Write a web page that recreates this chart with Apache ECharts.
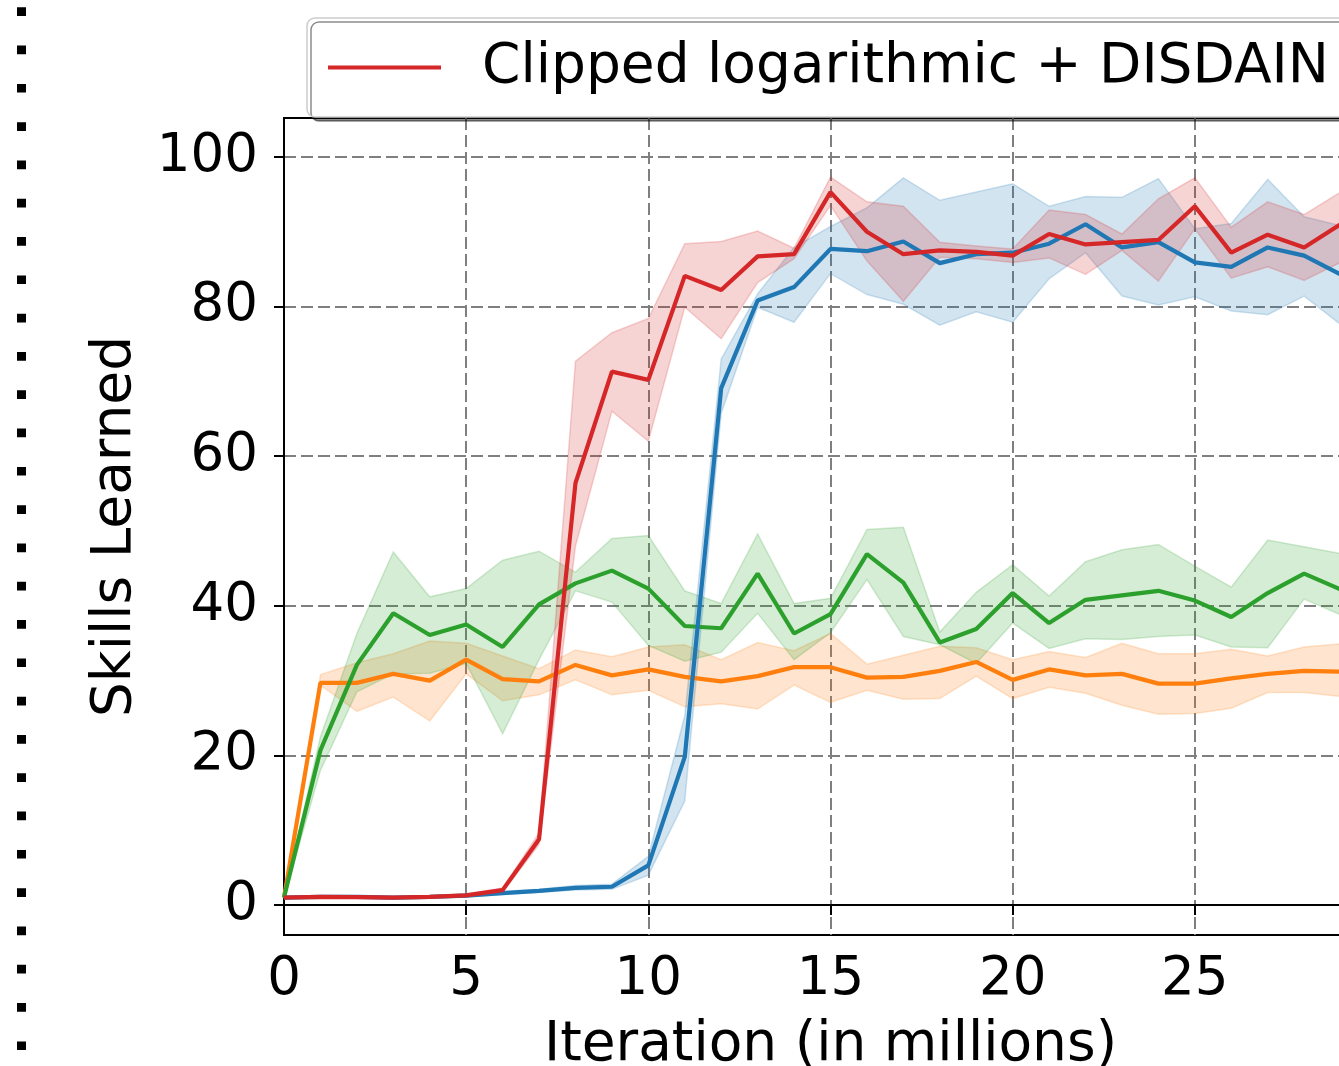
<!DOCTYPE html>
<html>
<head>
<meta charset="utf-8">
<title>Skills Learned</title>
<script src="https://cdn.jsdelivr.net/npm/echarts@6/dist/echarts.min.js"></script>
<style>
  html, body { margin: 0; padding: 0; background: #fff; }
  #chart { width: 1339px; height: 1066px; }
</style>
</head>
<body>
<div id="chart"></div>
<script>
// iterations (millions)
var iters = [0,1,2,3,4,5,6,7,8,9,10,11,12,13,14,15,16,17,18,19,20,21,22,23,24,25,26,27,28,29];
var yTicks = [0, 20, 40, 60, 80, 100];

// red: Clipped logarithmic + DISDAIN
var redMean  = [1.0,1.1,1.05,1.0,1.1,1.3,2.0,8.8,56.4,71.3,70.2,84.1,82.2,86.7,87.0,95.3,90.0,87.0,87.5,87.3,86.8,89.7,88.3,88.6,88.9,93.4,87.2,89.6,87.9,91.0];
var redUpper = [1.1,1.2,1.15,1.1,1.2,1.5,2.3,9.6,72.7,76.5,78.4,88.4,88.7,90.1,87.8,97.3,94.0,93.4,88.6,88.1,87.7,92.9,92.3,89.7,94.4,97.2,90.6,94.0,92.3,95.3];
var redLower = [0.9,1.0,0.95,0.9,1.0,1.1,1.7,8.1,48.0,66.0,62.0,79.9,75.7,83.2,86.4,93.5,86.1,80.7,86.6,86.4,85.9,86.5,84.3,87.5,83.4,90.4,83.8,85.3,83.5,85.9];

// blue
var blueMean  = [1.0,1.1,1.1,1.0,1.1,1.25,1.6,1.9,2.3,2.45,5.3,19.8,69.1,80.8,82.6,87.7,87.4,88.7,85.8,87.0,87.2,88.4,91.0,87.9,88.6,85.9,85.3,87.9,86.8,84.3];
var blueUpper = [1.1,1.2,1.2,1.1,1.2,1.4,1.8,2.1,2.6,2.8,6.5,25.3,73.0,81.7,87.9,90.7,93.2,97.2,94.2,95.3,96.4,93.4,94.7,94.6,97.1,90.4,91.1,97.0,92.0,90.8];
var blueLower = [0.9,1.0,1.0,0.9,1.0,1.1,1.4,1.7,2.0,2.1,4.0,13.9,65.7,79.9,77.9,84.4,81.6,80.3,77.5,79.3,77.9,83.7,87.2,81.4,80.2,81.3,79.4,78.9,81.4,77.6];

// orange
var orangeMean  = [1.0,29.7,29.7,30.9,30.0,32.8,30.2,29.9,32.1,30.7,31.5,30.5,29.9,30.6,31.8,31.8,30.4,30.5,31.3,32.5,30.1,31.5,30.7,30.9,29.6,29.6,30.3,30.9,31.3,31.2];
var orangeUpper = [1.1,30.8,32.4,33.6,35.3,35.0,33.3,31.6,34.1,33.2,34.5,34.8,32.8,35.1,34.0,36.3,32.2,33.4,34.6,34.4,32.8,33.9,33.1,35.0,33.6,33.6,34.2,33.3,34.5,34.9];
var orangeLower = [0.9,29.4,25.9,27.8,24.6,30.9,27.3,28.1,30.1,28.1,28.7,26.5,26.9,26.2,29.4,27.1,28.7,27.5,27.6,30.6,27.6,29.1,28.3,26.7,25.5,25.6,26.3,28.4,28.4,27.9];

// green
var greenMean  = [1.0,20.7,32.1,39.0,36.1,37.5,34.5,40.2,43.0,44.7,42.3,37.3,37.0,44.3,36.3,38.9,46.9,43.1,35.1,36.9,41.7,37.7,40.8,41.4,42.0,40.7,38.5,41.7,44.3,42.2];
var greenUpper = [1.1,22.5,36.3,47.2,41.2,42.3,46.1,47.3,44.5,49.0,49.4,42.0,40.3,49.6,40.3,41.0,50.2,50.5,36.5,41.8,45.5,41.3,45.9,47.5,48.2,45.3,42.5,48.8,47.9,47.0];
var greenLower = [0.9,18.0,28.5,30.9,31.0,32.3,22.9,32.8,42.0,40.5,34.7,32.6,33.8,39.0,32.8,36.4,43.5,35.9,34.8,32.3,37.7,34.3,35.6,35.5,35.9,36.1,34.5,34.4,40.9,38.8];

var FONT = 'DejaVu Sans';
var FS = 55;      // legend + axis titles
var TICK_FS = 53; // tick labels

function pairs(ys) {
  return iters.map(function (x, i) { return [x, ys[i]]; });
}

// shaded band: one polygon (upper edge, then lower edge back) built through api.coord
function band(key, up, lo, rgb) {
  return {
    name: key + '_band', type: 'custom', silent: true,
    data: iters.map(function (x, i) { return [x, lo[i], up[i]]; }),
    encode: { x: 0, y: [1, 2] },
    renderItem: function (params, api) {
      if (params.dataIndex !== 0) return null;
      var pts = [];
      for (var i = 0; i < iters.length; i++) pts.push(api.coord([iters[i], up[i]]));
      for (var j = iters.length - 1; j >= 0; j--) pts.push(api.coord([iters[j], lo[j]]));
      return {
        type: 'polygon',
        shape: { points: pts },
        style: {
          fill: 'rgba(' + rgb + ',0.2)',
          stroke: 'rgba(' + rgb + ',0.2)',
          lineWidth: 1.5
        }
      };
    }
  };
}

function meanLine(name, ys, color) {
  return {
    name: name, type: 'line', data: pairs(ys), color: color,
    symbol: 'none', silent: true,
    lineStyle: { color: color, width: 4.2 }
  };
}

var series = [
  band('orange', orangeUpper, orangeLower, '255,127,14'),
  band('green', greenUpper, greenLower, '44,160,44'),
  band('blue', blueUpper, blueLower, '31,119,180'),
  band('red', redUpper, redLower, '214,39,40'),
  meanLine('orange', orangeMean, '#ff7f0e'),
  meanLine('green', greenMean, '#2ca02c'),
  meanLine('blue', blueMean, '#1f77b4'),
  meanLine('Clipped logarithmic + DISDAIN', redMean, '#d62728')
];

var chart = echarts.init(document.getElementById('chart'));
chart.setOption({
  animation: false,
  backgroundColor: '#fff',
  textStyle: { fontFamily: FONT },
  grid: {
    left: 284, top: 118, width: 1093, height: 817,
    outerBoundsMode: 'none', containLabel: false,
    show: true, borderColor: '#000', borderWidth: 2, backgroundColor: 'transparent'
  },
  legend: {
    data: ['Clipped logarithmic + DISDAIN'],
    left: 307, top: 18,
    padding: [22, 1000, 22, 21],
    icon: 'rect', itemWidth: 113, itemHeight: 4,
    backgroundColor: '#fff',
    borderColor: '#cccccc', borderWidth: 1.5, borderRadius: 8,
    shadowColor: 'rgba(0,0,0,0.45)', shadowBlur: 0, shadowOffsetX: 4, shadowOffsetY: 4,
    textStyle: { fontFamily: FONT, fontSize: FS, color: '#000', padding: [0, 0, 0, 36], lineHeight: 55 },
    z: 10
  },
  xAxis: {
    type: 'value', min: 0, max: 30, interval: 5,
    name: 'Iteration (in millions)', nameLocation: 'middle', nameGap: 83,
    nameTextStyle: { fontFamily: FONT, fontSize: FS, color: '#000' },
    axisLine: { show: true, lineStyle: { color: '#000', width: 2 } },
    axisTick: { show: true, length: 10, lineStyle: { color: '#000', width: 2 } },
    axisLabel: { fontFamily: FONT, fontSize: TICK_FS, color: '#000', margin: 19 },
    splitLine: { show: true, lineStyle: { color: '#7f7f7f', width: 2, type: [12, 5] } }
  },
  yAxis: {
    type: 'value', min: -4.0, max: 105.2,
    name: 'Skills Learned', nameLocation: 'middle', nameGap: 141,
    nameTextStyle: { fontFamily: FONT, fontSize: FS, color: '#000' },
    axisLine: { show: true, lineStyle: { color: '#000', width: 2 } },
    axisTick: { show: true, length: 10, customValues: yTicks, lineStyle: { color: '#000', width: 2 } },
    axisLabel: { fontFamily: FONT, fontSize: TICK_FS, color: '#000', margin: 26, customValues: yTicks },
    splitLine: { show: true, lineStyle: { color: '#7f7f7f', width: 2, type: [12, 5] } }
  },
  graphic: [{
    type: 'line', silent: true,
    shape: { x1: 21.5, y1: 7.3, x2: 21.5, y2: 1066 },
    style: { stroke: '#000', lineWidth: 9, lineDash: [8.7, 29.6] }
  }],
  series: series
});
</script>
</body>
</html>
